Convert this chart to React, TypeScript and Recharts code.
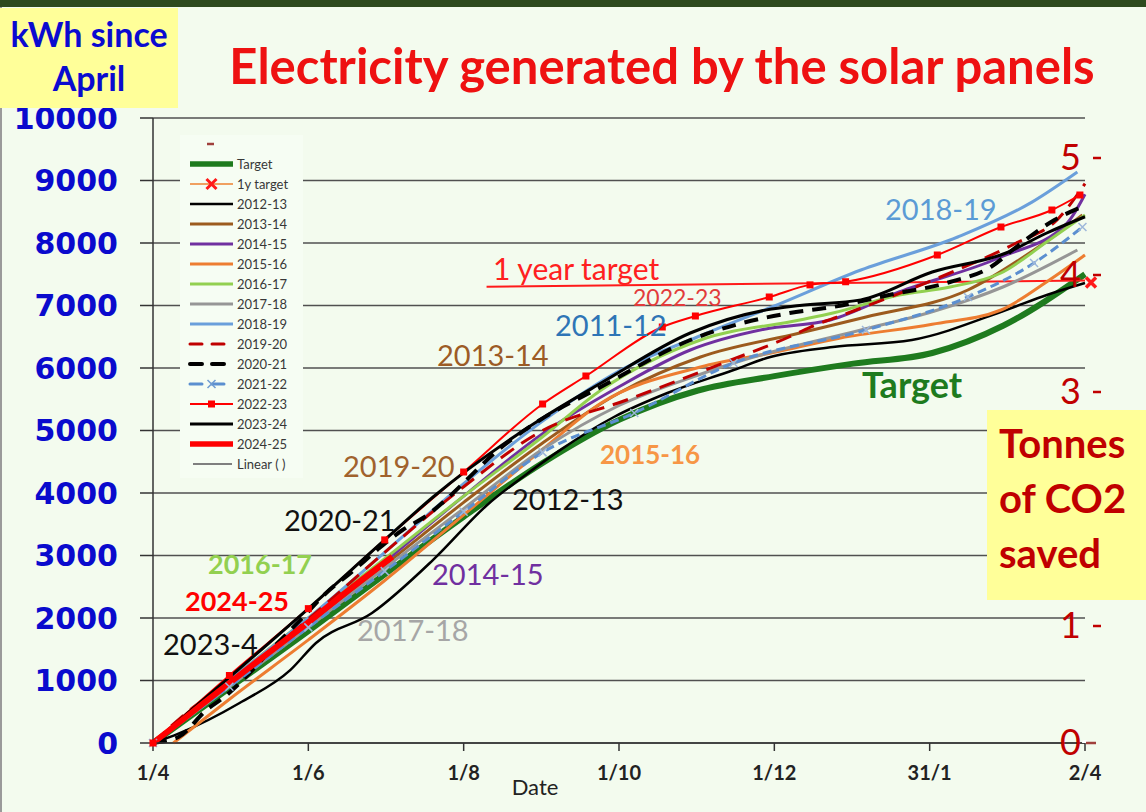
import React from 'react';
import { LineChart, Line, XAxis, YAxis, CartesianGrid, Legend } from 'recharts';

// ---------- axes ----------
const DAY_TICKS = [0, 61, 122, 183, 244, 305, 366];
const DAY_LABELS = ['1/4', '1/6', '1/8', '1/10', '1/12', '31/1', '2/4'];
const KWH_TICKS = [0, 1000, 2000, 3000, 4000, 5000, 6000, 7000, 8000, 9000, 10000];
const CO2_TICKS = [0, 1, 2, 3, 4, 5];
const CO2_HIDDEN = [2]; // covered by the "Tonnes of CO2 saved" box in the original
const KWH_PER_TONNE = 1872;

// ---------- series (day since 1 April, cumulative kWh) ----------
const targetDays = [0, 30, 61, 91, 122, 153, 183, 214, 244, 275, 306, 334, 366];
const targetKwh = [0, 880, 1790, 2700, 3620, 4480, 5170, 5640, 5870, 6070, 6240, 6680, 7500];

const oneYearDays = [131, 366];
const oneYearKwh = [7300, 7400];

const y2012Days = [0, 10, 34, 54, 64, 86, 110, 131, 149, 160, 181, 202, 228, 241, 267, 298, 335, 351, 366];
const y2012Kwh = [0, 150, 640, 1170, 1600, 2080, 2930, 3800, 4370, 4690, 5216, 5600, 5968, 6160, 6336, 6448, 6928, 7168, 7360];

const y2013Days = [0, 30, 61, 91, 122, 153, 183, 215, 254, 280, 320, 346, 365];
const y2013Kwh = [0, 950, 1900, 2850, 3850, 4800, 5600, 6176, 6560, 6816, 7248, 7888, 8448];

const y2014Days = [0, 30, 61, 91, 122, 153, 183, 211, 240, 266, 293, 333, 359, 366];
const y2014Kwh = [0, 950, 1900, 2900, 3950, 4950, 5700, 6288, 6620, 6768, 7216, 7776, 8320, 8780];

const y2015Days = [8, 30, 61, 91, 122, 153, 176, 215, 244, 270, 306, 333, 352, 366];
const y2015Kwh = [0, 700, 1650, 2600, 3650, 4700, 5440, 6016, 6250, 6480, 6700, 6928, 7408, 7808];

const y2016Days = [0, 30, 61, 91, 122, 153, 176, 215, 254, 267, 293, 313, 333, 352, 366];
const y2016Kwh = [0, 1000, 2000, 2950, 3950, 4900, 5648, 6448, 6768, 6880, 7168, 7296, 7520, 8048, 8448];

const y2017Days = [0, 30, 61, 91, 122, 153, 183, 215, 228, 278, 306, 334, 363];
const y2017Kwh = [0, 900, 1850, 2800, 3750, 4700, 5400, 5900, 6080, 6608, 6900, 7300, 7888];

const y2018Days = [0, 30, 61, 91, 122, 153, 183, 214, 243, 278, 316, 345, 363];
const y2018Kwh = [0, 1000, 2000, 3050, 4150, 5150, 5950, 6500, 6976, 7568, 8096, 8650, 9136];

const y2019Days = [0, 16, 30, 49, 62, 91, 122, 153, 186, 227, 250, 258, 273, 313, 339, 355, 366];
const y2019Kwh = [0, 576, 960, 1568, 2016, 3050, 4100, 5000, 5488, 6128, 6500, 6650, 6880, 7520, 8000, 8368, 8950];

const y2020Days = [0, 10, 21, 28, 49, 59, 68, 79, 88, 98, 106, 139, 152, 176, 211, 250, 267, 289, 313, 329, 339, 354, 366];
const y2020Kwh = [0, 96, 528, 736, 1600, 2016, 2400, 2768, 3088, 3408, 3600, 4800, 5168, 5700, 6448, 6880, 6976, 7168, 7376, 7616, 7936, 8368, 8600];

const y2021Days = [0, 30, 61, 91, 122, 153, 189, 228, 280, 320, 346, 365];
const y2021Kwh = [0, 900, 1850, 2750, 3700, 4650, 5280, 6080, 6608, 7136, 7680, 8256];

const y2022Days = [0, 30, 61, 91, 122, 153, 170, 200, 213, 242, 258, 272, 308, 333, 353, 364];
const y2022Kwh = [0, 1080, 2150, 3250, 4336, 5424, 5872, 6656, 6832, 7136, 7330, 7380, 7808, 8256, 8528, 8768];

const y2023Days = [0, 30, 61, 91, 110, 153, 176, 211, 241, 254, 278, 306, 335, 351, 366];
const y2023Kwh = [0, 1050, 2150, 3250, 3936, 5200, 5760, 6560, 6930, 7000, 7090, 7536, 7840, 8160, 8420];

const y2024Days = [0, 15, 30, 45, 61, 77, 94];
const y2024Kwh = [0, 480, 960, 1430, 1930, 2450, 2980];

// blank first legend entry, plotted on the CO2 axis at zero
const blankDays = [366];
const blankCo2 = [0];

const toPts = (days: number[], vals: number[]) => days.map((d, i) => ({ d, v: vals[i] }));

type Series = {
  name: string;
  days: number[];
  kwh: number[];
  color: string;
  width: number;
  dash?: string;
  marker?: 'square' | 'x' | 'xEnd';
  legendColor?: string;
};

const SERIES: Series[] = [
  { name: 'Target', days: targetDays, kwh: targetKwh, color: '#1E7B1E', width: 6 },
  { name: '1y target', days: oneYearDays, kwh: oneYearKwh, color: '#FF1A1A', width: 2, marker: 'xEnd', legendColor: '#F0A060' },
  { name: '2012-13', days: y2012Days, kwh: y2012Kwh, color: '#000000', width: 2.5 },
  { name: '2013-14', days: y2013Days, kwh: y2013Kwh, color: '#9C5B1E', width: 3 },
  { name: '2014-15', days: y2014Days, kwh: y2014Kwh, color: '#7030A0', width: 3 },
  { name: '2015-16', days: y2015Days, kwh: y2015Kwh, color: '#ED7D31', width: 3 },
  { name: '2016-17', days: y2016Days, kwh: y2016Kwh, color: '#92D050', width: 3 },
  { name: '2017-18', days: y2017Days, kwh: y2017Kwh, color: '#969696', width: 3 },
  { name: '2018-19', days: y2018Days, kwh: y2018Kwh, color: '#6A9FDB', width: 3 },
  { name: '2019-20', days: y2019Days, kwh: y2019Kwh, color: '#C00000', width: 3, dash: '16 9' },
  { name: '2020-21', days: y2020Days, kwh: y2020Kwh, color: '#000000', width: 4, dash: '14 9' },
  { name: '2021-22', days: y2021Days, kwh: y2021Kwh, color: '#5B8FD0', width: 3, dash: '9 5', marker: 'x' },
  { name: '2022-23', days: y2022Days, kwh: y2022Kwh, color: '#FF0000', width: 2, marker: 'square' },
  { name: '2023-24', days: y2023Days, kwh: y2023Kwh, color: '#000000', width: 3 },
  { name: '2024-25', days: y2024Days, kwh: y2024Kwh, color: '#FF0000', width: 6 },
];

const LEGEND_EXTRA_TOP = { name: '', color: '#A0403C' };
const LEGEND_EXTRA_BOTTOM = { name: 'Linear ( )', color: '#7F7F7F' };

// ---------- annotations ----------
const ANNOTATIONS = [
  { text: '2018-19', x: 885, y: 220, size: 29, color: '#5B9BD5', bold: false },
  { text: '1 year target', x: 493, y: 280, size: 30, color: '#FF2020', bold: false },
  { text: '2022-23', x: 633, y: 306, size: 23, color: '#E23B3B', bold: false },
  { text: '2011-12', x: 555, y: 336, size: 29, color: '#2E75B6', bold: false },
  { text: '2013-14', x: 437, y: 366, size: 29, color: '#9C5B26', bold: false },
  { text: 'Target', x: 862, y: 398, size: 36, color: '#1E7B1E', bold: true },
  { text: '2015-16', x: 600, y: 464, size: 26, color: '#F79646', bold: true },
  { text: '2019-20', x: 343, y: 477, size: 29, color: '#A0622D', bold: false },
  { text: '2012-13', x: 512, y: 510, size: 29, color: '#111111', bold: false },
  { text: '2020-21', x: 284, y: 531, size: 29, color: '#111111', bold: false },
  { text: '2016-17', x: 208, y: 574, size: 27, color: '#92D050', bold: true },
  { text: '2014-15', x: 432, y: 585, size: 29, color: '#7030A0', bold: false },
  { text: '2024-25', x: 185, y: 611, size: 27, color: '#FF0000', bold: true },
  { text: '2017-18', x: 357, y: 641, size: 29, color: '#A6A6A6', bold: false },
  { text: '2023-4', x: 163, y: 655, size: 29, color: '#111111', bold: false },
];

const FONT = 'Lato, "Open Sans", sans-serif';

const xPath = (cx: number, cy: number, s: number) =>
  `M${cx - s},${cy - s}L${cx + s},${cy + s}M${cx - s},${cy + s}L${cx + s},${cy - s}`;

const makeDot = (s: Series) => {
  if (!s.marker) return false;
  return (p: any) => {
    const { cx, cy, index } = p;
    const key = `${s.name}-dot-${index}`;
    if (cx == null || cy == null) return <g key={key} />;
    if (s.marker === 'square') {
      return <rect key={key} x={cx - 3.5} y={cy - 3.5} width={7} height={7} fill={s.color} />;
    }
    if (s.marker === 'x') {
      return <path key={key} d={xPath(cx, cy, 4)} stroke="#9DB7DA" strokeWidth={1.5} fill="none" />;
    }
    if (s.marker === 'xEnd') {
      if (index !== s.days.length - 1) return <g key={key} />;
      return <path key={key} d={xPath(cx + 6, cy + 2, 5)} stroke="#FF1A1A" strokeWidth={3.5} fill="none" />;
    }
    return <g key={key} />;
  };
};

const XTick = (props: any) => {
  const { x, y, payload } = props;
  const i = DAY_TICKS.indexOf(payload.value);
  return (
    <text x={x} y={y + 27} textAnchor="middle" fontFamily={FONT} fontWeight={700} fontSize={20} fill="#222">
      {DAY_LABELS[i]}
    </text>
  );
};

const Co2Tick = (props: any) => {
  const { y, payload } = props;
  if (CO2_HIDDEN.includes(payload.value)) return <g />;
  const isZero = payload.value === 0;
  return (
    <g>
      <text x={1081} y={y + 12} textAnchor="end" fontFamily={FONT} fontSize={36} fill="#C00000">
        {payload.value}
      </text>
      <line
        x1={isZero ? 1086 : 1093}
        x2={isZero ? 1096 : 1101}
        y1={y}
        y2={y}
        stroke={isZero ? '#A0403C' : '#C00000'}
        strokeWidth={2.5}
      />
    </g>
  );
};

const LegendSample = ({ s, y }: { s: any; y: number }) => {
  const color = s.legendColor || s.color;
  const lw = Math.min(s.width ?? 2, 5.5);
  return (
    <g>
      <line x1={10} x2={53} y1={y} y2={y} stroke={color} strokeWidth={lw} strokeDasharray={s.dash ? '12 10' : undefined} strokeLinecap={s.dash ? 'round' : 'butt'} />
      {s.marker === 'square' && <rect x={28} y={y - 3.5} width={7} height={7} fill={s.color} />}
      {s.marker === 'x' && <path d={xPath(31.5, y, 4)} stroke="#6F9BD1" strokeWidth={1.5} />}
      {s.marker === 'xEnd' && <path d={xPath(31.5, y, 5)} stroke="#FF1A1A" strokeWidth={3} />}
    </g>
  );
};

const LegendBox = () => {
  const rows = SERIES.length + 2;
  return (
    <div style={{ width: 123, height: 343, background: '#F6FDF3' }}>
      <svg width={123} height={343}>
        <line x1={27} x2={34} y1={9} y2={9} stroke={LEGEND_EXTRA_TOP.color} strokeWidth={2.5} />
        {SERIES.map((s, i) => {
          const y = 9 + 20 * (i + 1);
          return (
            <g key={s.name}>
              <LegendSample s={s} y={y} />
              <text x={57} y={y + 4.5} fontFamily={FONT} fontSize={13} fill="#383838">
                {s.name}
              </text>
            </g>
          );
        })}
        <line x1={13} x2={52} y1={9 + 20 * (rows - 1)} y2={9 + 20 * (rows - 1)} stroke={LEGEND_EXTRA_BOTTOM.color} strokeWidth={2} />
        <text x={57} y={9 + 20 * (rows - 1) + 4.5} fontFamily={FONT} fontSize={13} fill="#383838">
          {LEGEND_EXTRA_BOTTOM.name}
        </text>
      </svg>
    </div>
  );
};

export default function App() {
  return (
    <div
      style={{
        position: 'absolute',
        left: 0,
        top: 0,
        width: 1146,
        height: 812,
        background: '#F3FBEE',
        overflow: 'hidden',
        fontFamily: FONT,
      }}
    >
      <div style={{ position: 'absolute', left: 0, top: 0, width: 1146, height: 7, background: '#2E4A1E' }} />
      <div style={{ position: 'absolute', left: 0, top: 7, width: 2, height: 805, background: '#9A9A9A' }} />

      <div style={{ position: 'absolute', left: 0, top: 0 }}>
        <LineChart width={1146} height={812} margin={{ top: 118, right: 11, bottom: 29, left: 13 }}>
          <CartesianGrid yAxisId="kwh" vertical={false} stroke="#505050" strokeWidth={1.4} />
          <XAxis
            dataKey="d"
            type="number"
            domain={[0, 366]}
            ticks={DAY_TICKS}
            allowDuplicatedCategory={false}
            height={40}
            stroke="#333"
            strokeWidth={1.5}
            tickSize={8}
            tick={<XTick />}
          />
          <YAxis
            yAxisId="kwh"
            type="number"
            domain={[0, 10000]}
            ticks={KWH_TICKS}
            width={140}
            stroke="#333"
            strokeWidth={1.5}
            tickSize={13}
            tickMargin={22}
            tick={{ fill: '#0A0ACD', fontSize: 30, fontWeight: 700, fontFamily: '"DejaVu Sans", Verdana, sans-serif' }}
          />
          <YAxis
            yAxisId="co2"
            orientation="right"
            type="number"
            domain={[0, 10000 / KWH_PER_TONNE]}
            ticks={CO2_TICKS}
            allowDataOverflow
            width={50}
            axisLine={false}
            tickLine={false}
            tick={<Co2Tick />}
          />
          <Legend
            layout="vertical"
            align="center"
            verticalAlign="middle"
            wrapperStyle={{ left: 180, top: 135, width: 123, height: 343 }}
            content={() => <LegendBox />}
          />
          <Line
            yAxisId="co2"
            data={toPts(blankDays, blankCo2)}
            dataKey="v"
            name="blank"
            stroke="none"
            dot={false}
            activeDot={false}
            legendType="none"
            isAnimationActive={false}
          />
          {SERIES.map((s) => (
            <Line
              key={s.name}
              yAxisId="kwh"
              data={toPts(s.days, s.kwh)}
              dataKey="v"
              name={s.name}
              type={s.days.length > 2 ? 'monotone' : 'linear'}
              stroke={s.color}
              strokeWidth={s.width}
              strokeDasharray={s.dash}
              dot={makeDot(s) as any}
              activeDot={false}
              isAnimationActive={false}
            />
          ))}
        </LineChart>
      </div>

      {/* annotations & title */}
      <svg width={1146} height={812} style={{ position: 'absolute', left: 0, top: 0, pointerEvents: 'none' }}>
        <text x={662} y={84} textAnchor="middle" fontFamily={FONT} fontWeight={700} fontSize={49} fill="#EE1111">
          Electricity generated by the solar panels
        </text>
        {ANNOTATIONS.map((a) => (
          <text key={a.text} x={a.x} y={a.y} fontFamily={FONT} fontWeight={a.bold ? 700 : 400} fontSize={a.size} fill={a.color}>
            {a.text}
          </text>
        ))}
        <text x={535} y={795} textAnchor="middle" fontFamily={FONT} fontSize={22} fill="#222">
          Date
        </text>
      </svg>

      {/* yellow boxes */}
      <div
        style={{
          position: 'absolute',
          left: 0,
          top: 8,
          width: 178,
          height: 100,
          background: '#FFFF99',
          color: '#0B0BD0',
          fontFamily: FONT,
          fontWeight: 700,
          fontSize: 34,
          lineHeight: '44px',
          textAlign: 'center',
          paddingTop: 4,
          boxSizing: 'border-box',
        }}
      >
        kWh since
        <br />
        April
      </div>
      <div
        style={{
          position: 'absolute',
          left: 987,
          top: 410,
          width: 159,
          height: 190,
          background: '#FFFF99',
          color: '#C00000',
          fontFamily: FONT,
          fontWeight: 700,
          fontSize: 40,
          lineHeight: '55px',
          paddingLeft: 12,
          paddingTop: 6,
          boxSizing: 'border-box',
        }}
      >
        Tonnes
        <br />
        of CO2
        <br />
        saved
      </div>
    </div>
  );
}
